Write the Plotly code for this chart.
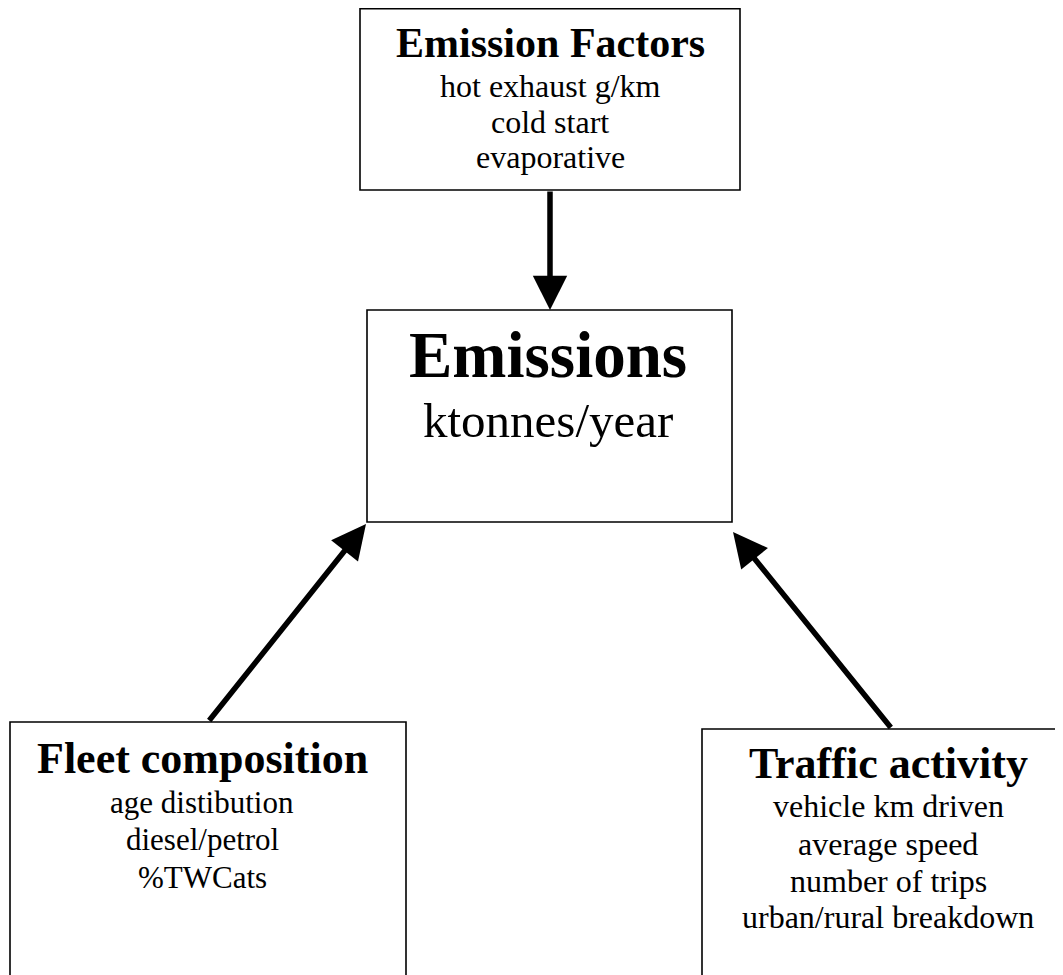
import plotly.graph_objects as go

# ---- content ----
box_titles = ["Emission Factors", "Emissions", "Fleet composition", "Traffic activity"]
box_lines = [
    ["hot exhaust g/km", "cold start", "evaporative"],
    ["ktonnes/year"],
    ["age distibution", "diesel/petrol", "%TWCats"],
    ["vehicle km driven", "average speed", "number of trips", "urban/rural breakdown"],
]

# ---- layout geometry (page pixel space, y downward) ----
W, H = 1063, 975
OFF = 8  # page body margin
box_x0 = [360, 367, 10, 702]
box_x1 = [740, 732, 406, 1090]
box_y0 = [8.8, 310, 722, 729]
box_y1 = [190, 522, 1000, 1000]
text_cx = [550, 548, 202, 888]
title_cy = [43, 355, 758, 763]
title_size = [42, 65, 44, 44]
line_cy = [
    [86, 122, 157],
    [420],
    [802, 839, 877],
    [806, 844, 881, 917],
]
line_size = [32, 49, 31, 32]

# arrows: (tail_x, tail_y, tip_x, tip_y)
arrow_tail_x = [550, 208, 892]
arrow_tail_y = [190, 722, 729]
arrow_tip_x = [550, 366, 733]
arrow_tip_y = [310, 524, 532]

FONT = "Liberation Serif"

fig = go.Figure()
fig.add_trace(go.Scatter(x=[OFF, W + OFF], y=[OFF, H + OFF], mode="markers",
                         marker=dict(opacity=0), hoverinfo="skip", showlegend=False))

for i in range(len(box_titles)):
    fig.add_shape(type="rect", x0=box_x0[i], x1=box_x1[i], y0=box_y0[i], y1=box_y1[i],
                  xref="x", yref="y", line=dict(color="black", width=1.6),
                  fillcolor="white", layer="below")
    fig.add_annotation(x=text_cx[i], y=title_cy[i], xref="x", yref="y",
                       text="<b>" + box_titles[i] + "</b>", showarrow=False,
                       xanchor="center", yanchor="middle",
                       font=dict(family=FONT, size=title_size[i], color="black"))
    for txt, cy in zip(box_lines[i], line_cy[i]):
        fig.add_annotation(x=text_cx[i], y=cy, xref="x", yref="y",
                           text=txt, showarrow=False,
                           xanchor="center", yanchor="middle",
                           font=dict(family=FONT, size=line_size[i], color="black"))

for tx, ty, hx, hy in zip(arrow_tail_x, arrow_tail_y, arrow_tip_x, arrow_tip_y):
    fig.add_annotation(x=hx, y=hy, ax=tx, ay=ty, xref="x", yref="y",
                       axref="x", ayref="y", text="", showarrow=True,
                       arrowhead=2, arrowsize=1.25, arrowwidth=5.5,
                       arrowcolor="black", standoff=0, startstandoff=0)

fig.update_xaxes(range=[OFF, W + OFF], visible=False, fixedrange=True)
fig.update_yaxes(range=[H + OFF, OFF], visible=False, fixedrange=True)
fig.update_layout(width=W, height=H, margin=dict(l=0, r=0, t=0, b=0),
                  plot_bgcolor="white", paper_bgcolor="white", showlegend=False)

fig.write_html("out.html", config={"displayModeBar": False})
